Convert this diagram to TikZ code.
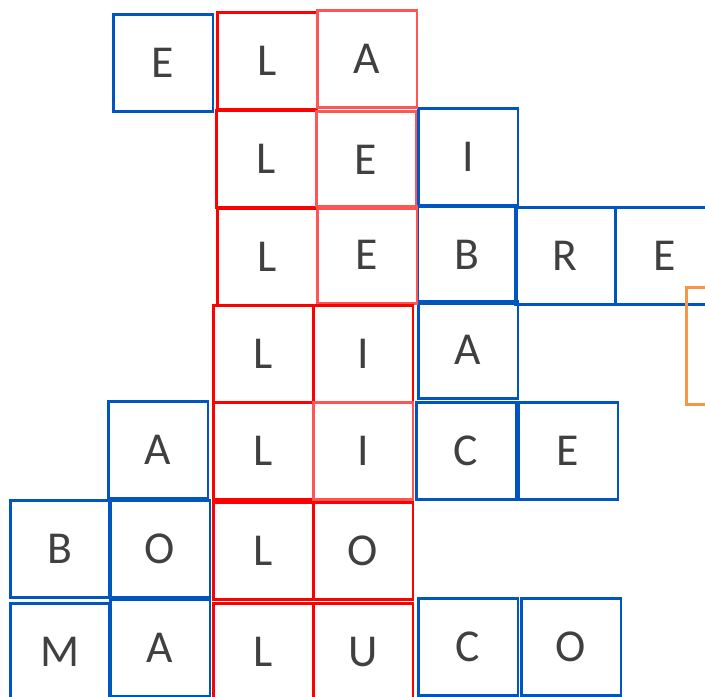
\documentclass[tikz,border=0pt]{standalone}
\usepackage{fontspec}
\setmainfont{Carlito}
\usepackage{tikz}
\definecolor{clWord}{HTML}{0055C0}
\definecolor{clKey}{HTML}{FF0000}
\definecolor{clKeyLight}{HTML}{FF5555}
\definecolor{clHint}{HTML}{F79646}
\tikzset{
  cell/.style={rectangle, draw, line width=1.7pt, minimum width=2cm, minimum height=1.94cm,
               inner sep=0pt, font=\fontsize{26}{30}\selectfont, text=black!75},
  word/.style={cell, draw=clWord},
  key/.style={cell, draw=clKey},
  keylight/.style={cell, draw=clKeyLight},
  hint/.style={cell, draw=clHint, minimum height=2.34cm},
}
\begin{document}
\begin{tikzpicture}[x=0.02cm, y=-0.02cm]
  \useasboundingbox (0,0) rectangle (705,696);
  \clip (0,0) rectangle (705,696);
  % words across
  \node[word] (w1e) at (163,63) {E};
  \node[word] (w2i) at (468,157) {I};
  \node[word] (w3b) at (467,255) {B};
  \node[word] (w3r) at (565,256) {R};
  \node[word] (w3e) at (665,256) {E};
  \node[hint] (h3) at (736,346) {};
  \node[word] (w4a) at (468,350) {A};
  \node[word] (w5a) at (158,450) {A};
  \node[word] (w5c) at (466,451) {C};
  \node[word] (w5e) at (568,451) {E};
  \node[word] (w6b) at (60,549) {B};
  \node[word] (w6o) at (160,549) {O};
  \node[word] (w7m) at (60,652) {M};
  \node[word] (w7a) at (160,648) {A};
  \node[word] (w7c) at (468,647) {C};
  \node[word] (w7o) at (571,647) {O};
  % key column
  \node[key] (k1l) at (267,61) {L};
  \node[keylight] (k1a) at (367,59) {A};
  \node[key] (k2l) at (266,159) {L};
  \node[keylight] (k2e) at (366,160) {E};
  \node[key] (k3l) at (267,257) {L};
  \node[keylight] (k3e) at (367,255) {E};
  \node[key] (k4l) at (263,354) {L};
  \node[key] (k4i) at (363,354) {I};
  \node[key] (k5l) at (263,451) {L};
  \node[keylight] (k5i) at (363,451) {I};
  \node[key] (k6l) at (263,551) {L};
  \node[key] (k6o) at (363,551) {O};
  \node[key] (k7l) at (263,652) {L};
  \node[key] (k7u) at (363,652) {U};
\end{tikzpicture}
\end{document}
